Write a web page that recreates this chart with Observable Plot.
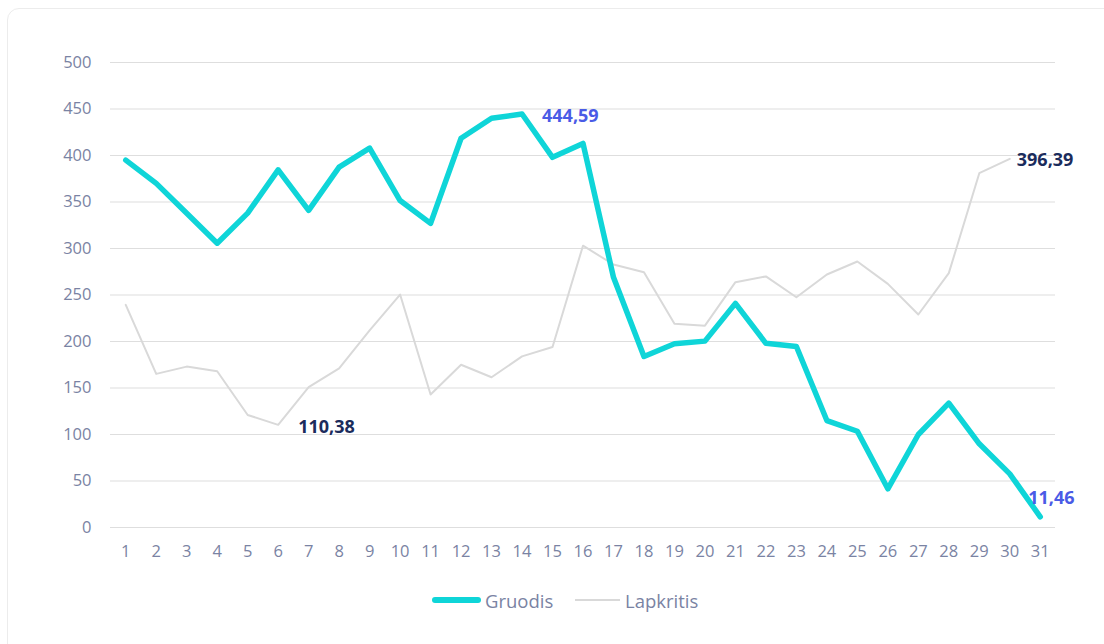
<!DOCTYPE html>
<html>
<head>
<meta charset="utf-8">
<script src="https://cdn.jsdelivr.net/npm/d3@7"></script>
<script src="https://cdn.jsdelivr.net/npm/@observablehq/plot@0.6"></script>
<style>
  html, body { margin: 0; padding: 0; background: #fff; width: 1104px; height: 644px; overflow: hidden; font-family: "Open Sans", sans-serif; }
  .card { position: absolute; left: 7px; top: 8px; width: 1120px; height: 660px; border: 1px solid #ececec; border-radius: 12px; box-sizing: border-box; }
  #chart { position: absolute; left: 0; top: 0; }
  .legend { position: absolute; top: 587px; left: 0; width: 1104px; height: 26px; }
  .item { position: absolute; top: 0; display: flex; align-items: center; height: 26px; font-size: 18.5px; color: #7a83a3; }
  .sw { display: inline-block; margin-right: 4px; border-radius: 3px; }
</style>
</head>
<body>
<div class="card"></div>
<div id="chart"></div>
<div class="legend">
  <div class="item" style="left:432px"><span class="sw" style="width:49px;height:6px;background:#0fd5d8"></span>Gruodis</div>
  <div class="item" style="left:575px"><span class="sw" style="width:45px;height:2px;background:#d9d9d9;border-radius:0;margin-right:5px"></span>Lapkritis</div>
</div>
<script>
const days = d3.range(1, 32);
const yTicks = [0, 50, 100, 150, 200, 250, 300, 350, 400, 450, 500];
const gruodis = [395, 370, 338, 305.7, 338, 384.6, 341, 387.5, 408, 351.6, 327, 418.6, 440, 444.59, 398, 413, 269, 183.9, 197.5, 200.4, 241, 198, 194.6, 115, 103.5, 41.6, 100, 133.7, 90, 57.7, 11.46];
const lapkritis = [239.4, 165.2, 173, 168, 121, 110.38, 151, 171, 212, 250.5, 143, 175, 161.6, 184, 194, 303, 282.8, 274.5, 219, 217, 263.8, 270, 247.6, 272, 286, 262, 229, 273.5, 381, 396.39];

const gData = gruodis.map((v, i) => ({day: days[i], value: v}));
const lData = lapkritis.map((v, i) => ({day: days[i], value: v}));
const fmt = v => v.toFixed(2).replace(".", ",");

const gMax = gData.reduce((a, b) => b.value > a.value ? b : a);
const gLast = gData[gData.length - 1];
const lMin = lData.reduce((a, b) => b.value < a.value ? b : a);
const lLast = lData[lData.length - 1];

const chart = Plot.plot({
  width: 1104,
  height: 580,
  marginLeft: 110,
  marginRight: 49,
  marginTop: 62,
  marginBottom: 53,
  style: {fontFamily: "'Open Sans', sans-serif", background: "transparent"},
  x: {type: "linear", domain: [0.5, 31.5]},
  y: {domain: [0, 500]},
  marks: [
    Plot.ruleY(yTicks, {stroke: "#dedede", strokeWidth: 1.2}),
    Plot.axisY(yTicks, {tickSize: 0, tickPadding: 19, fontSize: 16.5, fill: "#7a83a3", label: null}),
    Plot.axisX(days, {tickSize: 0, tickPadding: 18, fontSize: 16.5, fill: "#7a83a3", label: null}),
    Plot.line(lData, {x: "day", y: "value", stroke: "#d9d9d9", strokeWidth: 2}),
    Plot.line(gData, {x: "day", y: "value", stroke: "#0fd5d8", strokeWidth: 5.5, strokeLinejoin: "round", strokeLinecap: "round"}),
    Plot.text([gMax], {x: "day", y: "value", text: d => fmt(d.value), textAnchor: "start", dx: 20, dy: 2, fill: "#4a5be6", fontWeight: "bold", fontSize: 18}),
    Plot.text([lMin], {x: "day", y: "value", text: d => fmt(d.value), textAnchor: "start", dx: 20, dy: 2, fill: "#1b2c5c", fontWeight: "bold", fontSize: 18}),
    Plot.text([lLast], {x: "day", y: "value", text: d => fmt(d.value), textAnchor: "start", dx: 7, dy: 1, fill: "#1b2c5c", fontWeight: "bold", fontSize: 18}),
    Plot.text([gLast], {x: "day", y: "value", text: d => fmt(d.value), textAnchor: "start", dx: -12, dy: -19, fill: "#4a5be6", fontWeight: "bold", fontSize: 18})
  ]
});
document.getElementById("chart").appendChild(chart);
</script>
</body>
</html>
